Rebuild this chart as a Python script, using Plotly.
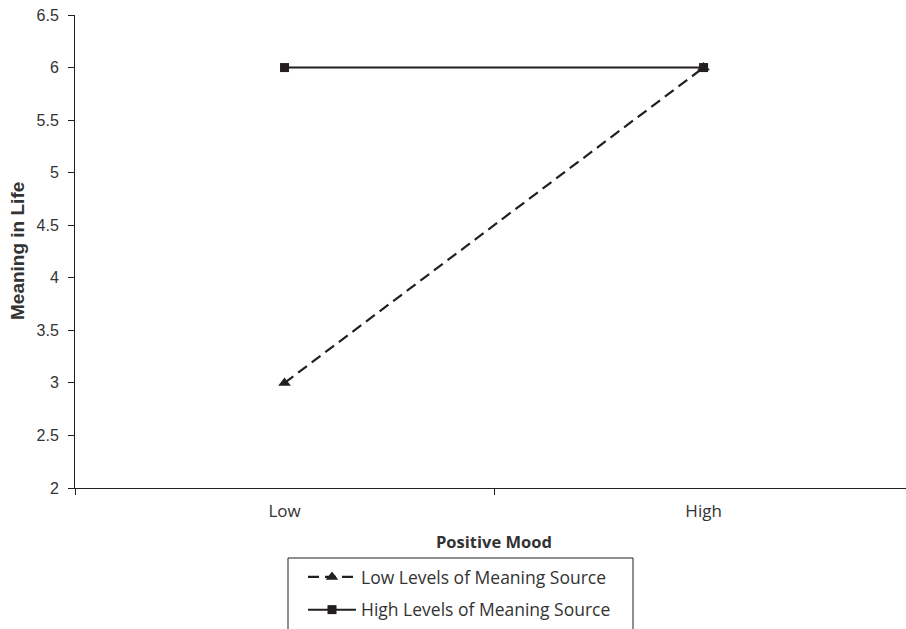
import plotly.graph_objects as go

categories = ["Low", "High"]
low_meaning = [3.0, 6.0]
high_meaning = [6.0, 6.0]
series_names = ["Low Levels of Meaning Source", "High Levels of Meaning Source"]
y_ticks = [2, 2.5, 3, 3.5, 4, 4.5, 5, 5.5, 6, 6.5]
y_ticktext = ["2", "2.5", "3", "3.5", "4", "4.5", "5", "5.5", "6", "6.5"]

HUM = "Open Sans"
ARI = "Liberation Sans"
INK = "#231f20"
TXT = "#333333"

L, T, B = 75, 15, 488
W = 906 - L
H = B - T

fig = go.Figure()
fig.add_trace(go.Scatter(
    x=categories, y=low_meaning, name=series_names[0], mode="lines+markers",
    line=dict(color=INK, width=2.2, dash="11px,6px"),
    marker=dict(symbol="triangle-up", size=11, color=INK),
    legendgroup="a",
))
fig.add_trace(go.Scatter(
    x=categories, y=high_meaning, name=series_names[1], mode="lines+markers",
    line=dict(color=INK, width=2),
    marker=dict(symbol="square", size=9, color=INK),
    legendgroup="b",
))

fig.update_layout(
    width=906, height=629,
    margin=dict(l=L, r=0, t=T, b=629 - B),
    plot_bgcolor="white", paper_bgcolor="white",
    showlegend=True,
    legend=dict(
        x=(303 - L) / W, y=(B - 559) / H, xanchor="left", yanchor="top",
        borderwidth=0, bgcolor="rgba(0,0,0,0)",
        font=dict(family=HUM, size=17.5, color=TXT),
        traceorder="grouped", tracegroupgap=7, itemwidth=48,
    ),
    xaxis=dict(
        type="category", range=[-0.5, 1.483], tickson="boundaries",
        ticks="outside", ticklen=6, tickcolor=INK, tickwidth=1,
        showline=True, linecolor=INK, linewidth=1, showgrid=False,
        tickfont=dict(family=HUM, size=17, color=TXT),
        zeroline=False, ticklabelstandoff=8,
    ),
    yaxis=dict(
        range=[2, 6.5], tickvals=y_ticks, ticktext=y_ticktext,
        ticks="outside", ticklen=6, tickcolor=INK, tickwidth=1,
        showline=True, linecolor=INK, linewidth=1, showgrid=False,
        tickfont=dict(family=ARI, size=16, color=TXT),
        zeroline=False, ticklabelstandoff=6,
    ),
    shapes=[
        dict(type="rect", xref="paper", yref="paper",
             x0=(288 - L) / W, x1=(633 - L) / W,
             y0=(B - 640) / H, y1=(B - 558) / H,
             line=dict(color=INK, width=1), fillcolor="rgba(0,0,0,0)", layer="above"),
    ],
    annotations=[
        dict(text="<b>Positive Mood</b>", xref="paper", yref="paper",
             x=(494 - L) / W, y=(B - 541) / H, xanchor="center", yanchor="middle",
             showarrow=False, font=dict(family=HUM, size=16.5, color=TXT)),
        dict(text="<b>Meaning in Life</b>", xref="paper", yref="paper", textangle=-90,
             x=(17 - L) / W, y=(B - 251) / H, xanchor="center", yanchor="middle",
             showarrow=False, font=dict(family=ARI, size=19, color=TXT)),
    ],
)

fig.write_html(
    "out.html",
    config={"displayModeBar": False},
    post_script="document.body.style.margin='0';document.body.style.overflow='hidden';",
)
